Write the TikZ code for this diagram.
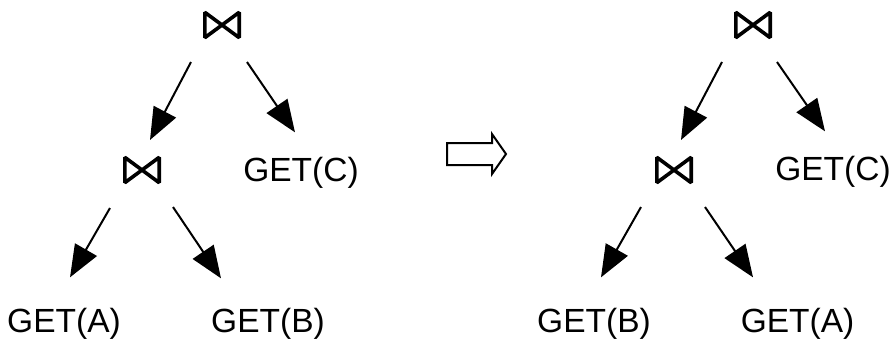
\documentclass[tikz,border=0pt]{standalone}
\usepackage{fontspec}
\setmainfont{Liberation Sans}
\usetikzlibrary{arrows.meta,calc}

\tikzset{
  joinbox/.style={inner sep=0pt, minimum width=34pt, minimum height=25pt},
  gettext/.style={anchor=base, inner sep=0pt, font=\fontsize{33.5}{40}\selectfont},
  flow/.style={line width=2pt, -{Triangle[length=32pt,width=25pt]}},
  rewrite/.style={line width=2pt, line join=miter},
}

% draw the join symbol inside a named node
\newcommand{\joinmark}[1]{%
  \draw[line width=3.6pt, line join=bevel]
    (#1.north west) -- (#1.south east) -- (#1.north east)
    -- (#1.south west) -- cycle;}

\begin{document}
\begin{tikzpicture}[x=1pt,y=-1pt]
  \useasboundingbox (0,0) rectangle (893,341);

  % plan before the rewrite
  \node[joinbox] (j1) at (222,25) {};
  \node[joinbox] (j2) at (142,170) {};
  \joinmark{j1}
  \joinmark{j2}
  \node[gettext] (c1) at (301,181) {GET(C)};
  \node[gettext] (a1) at (64,332) {GET(A)};
  \node[gettext] (b1) at (268,332) {GET(B)};

  \draw[flow] ($(j1)+(-31,37)$) -- ($(j2)+(8,-30)$);
  \draw[flow] ($(j1)+(25,37)$) -- ($(c1)+(-6,-40)$);
  \draw[flow] ($(j2)+(-32,38)$) -- ($(a1)+(6,-46)$);
  \draw[flow] ($(j2)+(31,37)$) -- ($(b1)+(-47,-45)$);

  % rewrite arrow
  \draw[rewrite] (447,143) -- (492,143) -- (492,134) -- (506,154)
    -- (492,174) -- (492,165) -- (447,165) -- cycle;

  % plan after the rewrite
  \node[joinbox] (j3) at (753,25) {};
  \node[joinbox] (j4) at (674,170) {};
  \joinmark{j3}
  \joinmark{j4}
  \node[gettext] (c2) at (833,180) {GET(C)};
  \node[gettext] (b2) at (594,332) {GET(B)};
  \node[gettext] (a2) at (797.5,332) {GET(A)};

  \draw[flow] ($(j3)+(-31,37)$) -- ($(j4)+(7,-30)$);
  \draw[flow] ($(j3)+(24,37)$) -- ($(c2)+(-8,-40)$);
  \draw[flow] ($(j4)+(-33,37)$) -- ($(b2)+(7,-46)$);
  \draw[flow] ($(j4)+(31,37)$) -- ($(a2)+(-44.5,-46)$);
\end{tikzpicture}
\end{document}
